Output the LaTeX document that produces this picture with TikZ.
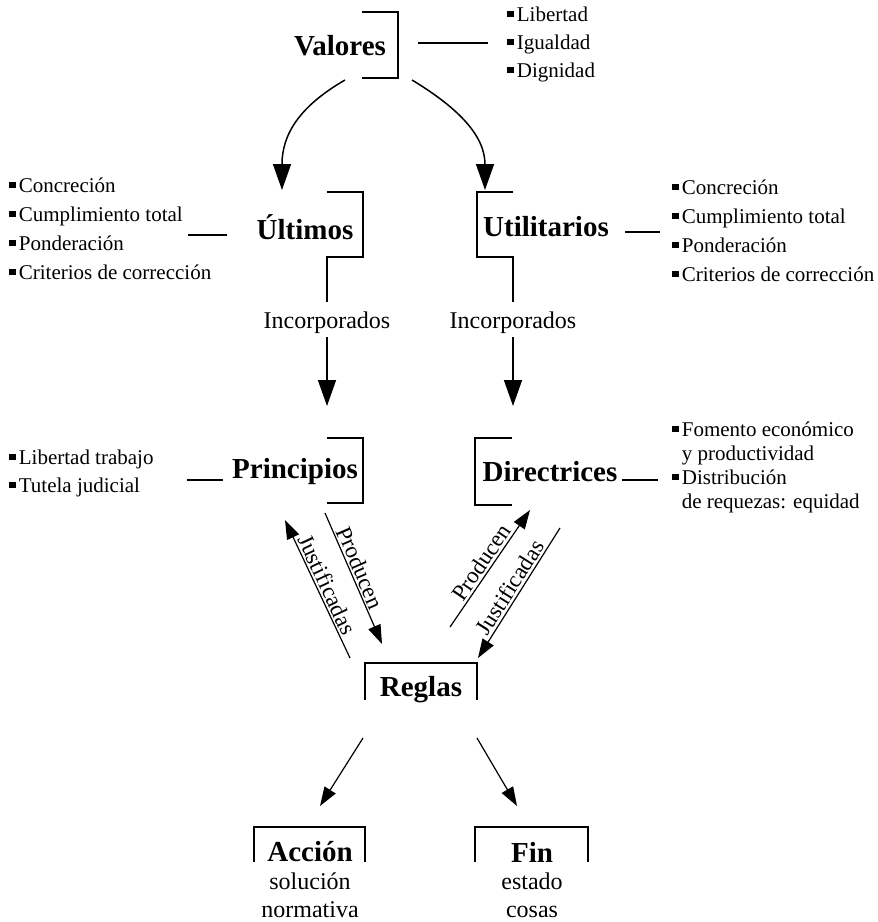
\documentclass[tikz,border=0pt]{standalone}
\usepackage{fontspec}
\setmainfont{Liberation Serif}
\usetikzlibrary{arrows.meta,calc}
% small square bullet for the item lists
\newcommand{\sq}{\rule[0.2em]{0.34em}{0.3em}\hspace{0.12em}}
\begin{document}
\begin{tikzpicture}[x=1pt,y=-1pt,
  >={Triangle[width=13pt,length=19pt]},
  head/.style={font=\fontsize{29}{32}\selectfont\bfseries, inner sep=0pt},
  itemlist/.style={font=\fontsize{21}{29}\selectfont, align=left, anchor=west, inner sep=0pt},
  caption/.style={font=\fontsize{24}{28}\selectfont, inner sep=0pt, align=center},
  bracket/.style={line width=1.8pt},
  link/.style={line width=1.1pt},
  bigarrow/.style={line width=1.5pt, -{Triangle[width=18pt,length=26pt]}},
  smallarrow/.style={line width=1.2pt},
  tag/.style={font=\fontsize{23}{25}\selectfont, sloped, inner sep=2pt}
]
\useasboundingbox (0,0) rectangle (878,922);

% ---- Valores ----
\node[head] (valores) at (340,46) {Valores};
\draw[bracket] ($(valores)+(22,-34)$) -- ++(36,0) -- ++(0,66) -- ++(-36,0);
\node[itemlist, font=\fontsize{21}{28}\selectfont] (vlist) at (507,44)
  {\sq Libertad\\ \sq Igualdad\\ \sq Dignidad};
\draw[link] ($(valores)+(78,-3)$) -- ($(vlist.west)+(-19,-1)$);

% ---- Últimos / Utilitarios ----
\node[head] (ultimos) at (305,227) {Últimos};
\node[head] (util) at (546,227) {Utilitarios};
\node[caption, minimum height=28pt] (inc1) at (327,323) {Incorporados};
\node[caption, minimum height=28pt] (inc2) at (513,323) {Incorporados};

\draw[bracket] ($(ultimos)+(22,-35)$) -- ++(36,0) -- ++(0,65) -- ++(-36,0) -- ($(inc1.north)+(0,-7)$);
\draw[bracket] ($(util)+(-33,-35)$) -- ++(-36,0) -- ++(0,65) -- ++(36,0) -- ($(inc2.north)+(0,-7)$);

\node[itemlist] (ulist) at (9,228.5)
  {\sq Concreción\\ \sq Cumplimiento total\\ \sq Ponderación\\ \sq Criterios de corrección};
\draw[link] ($(ultimos)+(-78,8)$) -- ($(ultimos)+(-117,8)$);

\node[itemlist] (utlist) at (672,230.5)
  {\sq Concreción\\ \sq Cumplimiento total\\ \sq Ponderación\\ \sq Criterios de corrección};
\draw[link] ($(util)+(79,5)$) -- ($(utlist.west)+(-12,1.5)$);

% curved arrows from Valores
\draw[bigarrow] ($(valores)+(5,34)$) .. controls ($(valores)+(-40,60)$) and ($(valores)+(-58,88)$) .. ($(ultimos)+(-23,-37)$);
\draw[bigarrow] ($(valores)+(72,34)$) .. controls ($(valores)+(115,60)$) and ($(valores)+(145,88)$) .. ($(util)+(-61,-37)$);

% ---- Principios / Directrices ----
\node[head] (principios) at (295,472) {Principios};
\node[head] (direc) at (550,472) {Directrices};
\draw[bracket] ($(principios)+(32,-34)$) -- ++(36,0) -- ++(0,65) -- ++(-36,0);
\draw[bracket] ($(direc)+(-38,-34)$) -- ++(-37,0) -- ++(0,67) -- ++(37,0);

\draw[bigarrow] (inc1.south) -- ($(principios)+(32,-66)$);
\draw[bigarrow] (inc2.south) -- ($(direc)+(-37,-66)$);

\node[itemlist, font=\fontsize{21}{28}\selectfont] (plist) at (9,473)
  {\sq Libertad trabajo\\ \sq Tutela judicial};
\draw[link] ($(principios)+(-72,8)$) -- ++(-36,0);

\node[itemlist, font=\fontsize{21}{24}\selectfont] (dlist) at (672,467.5)
  {\sq Fomento económico\\ \phantom{\sq}y productividad\\ \sq Distribución\\ \phantom{\sq}de requezas: equidad};
\draw[link] ($(direc)+(72,8)$) -- ++(36,0);

% ---- Reglas ----
\node[head] (reglas) at (421,690) {Reglas};
\draw[bracket] ($(reglas)+(-56,10)$) -- ++(0,-37) -- ++(112,0) -- ++(0,37);

\draw[smallarrow,->] ($(principios)+(30,41)$) -- ($(reglas)+(-39,-46)$)
  node[tag, pos=0.45, above] {Producen};
\draw[smallarrow,<-] ($(principios)+(-10,48)$) -- ($(reglas)+(-71,-32)$)
  node[tag, midway, above] {Justificadas};
\draw[smallarrow,->] ($(reglas)+(29,-63)$) -- ($(direc)+(-20,38)$)
  node[tag, midway, above] {Producen};
\draw[smallarrow,<-] ($(reglas)+(57,-32)$) -- ($(direc)+(10,56)$)
  node[tag, midway, above] {Justificadas};

% ---- Acción / Fin ----
\node[head] (accion) at (310,852) {Acción};
\node[head] (fin) at (532,852) {Fin};
\draw[bracket] ($(accion)+(-56,10)$) -- ++(0,-35) -- ++(111,0) -- ++(0,35);
\draw[bracket] ($(fin)+(-57,10)$) -- ++(0,-35) -- ++(113,0) -- ++(0,35);
\node[caption] (accionnote) at (310,895) {solución\\normativa};
\node[caption] (finnote) at (532,895) {estado\\cosas};

\draw[smallarrow,->] ($(reglas)+(-58,48)$) -- ($(accion)+(10,-46)$);
\draw[smallarrow,->] ($(reglas)+(56,48)$) -- ($(fin)+(-15,-46)$);
\end{tikzpicture}
\end{document}
